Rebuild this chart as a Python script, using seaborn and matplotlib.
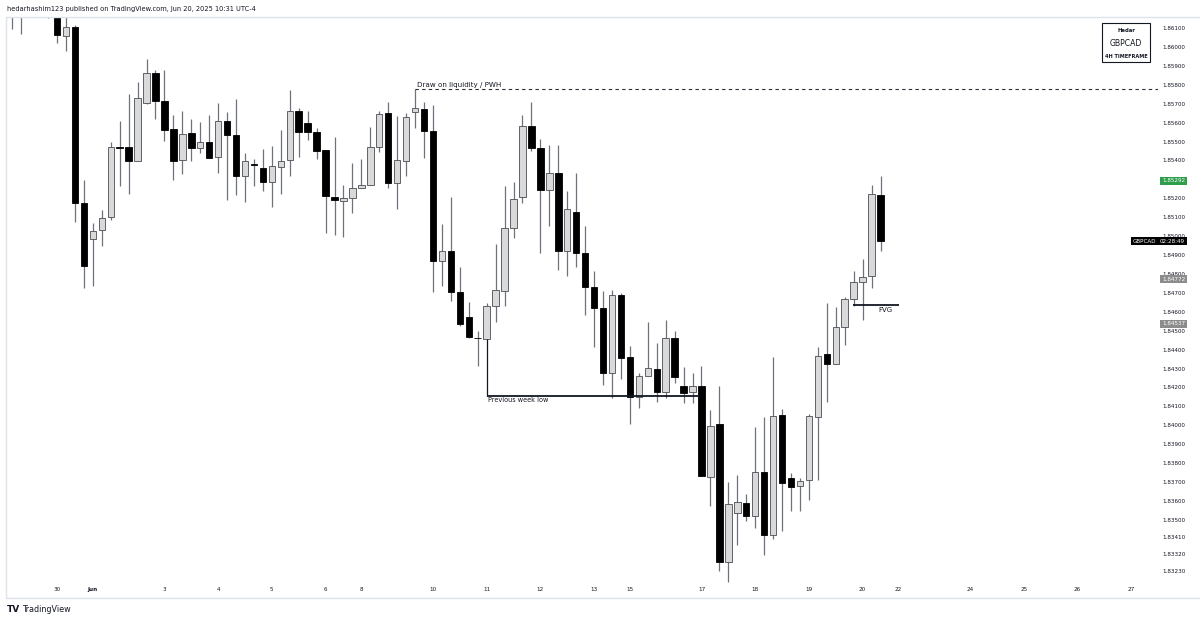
import numpy as np
import pandas as pd
import matplotlib
matplotlib.use("Agg")
import matplotlib.pyplot as plt
from matplotlib.patches import Rectangle
from matplotlib.lines import Line2D
import seaborn as sns

sns.set_theme(style="white")
plt.rcParams['font.family'] = ['DejaVu Sans']

# --- DATA: GBPCAD 4H candles (index 0 = 30 May) ---
first_idx = -5
opens = [1.86200, 1.86240, 1.86190, 1.86220, 1.86200, 1.86180, 1.86058, 1.86105, 1.85175, 1.84985,
         1.85032, 1.85101, 1.85471, 1.85471, 1.85397, 1.85704, 1.85862, 1.85714, 1.85566, 1.85402,
         1.85545, 1.85466, 1.85498, 1.85418, 1.85608, 1.85535, 1.85318, 1.85381, 1.85360, 1.85286,
         1.85365, 1.85402, 1.85661, 1.85598, 1.85550, 1.85455, 1.85207, 1.85186, 1.85202, 1.85254,
         1.85270, 1.85471, 1.85651, 1.85281, 1.85397, 1.85656, 1.85672, 1.85556, 1.84869, 1.84921,
         1.84705, 1.84573, 1.84462, 1.84456, 1.84631, 1.84710, 1.85043, 1.85207, 1.85582, 1.85466,
         1.85244, 1.85334, 1.84921, 1.85128, 1.84911, 1.84731, 1.84620, 1.84277, 1.84689, 1.84361,
         1.84150, 1.84261, 1.84298, 1.84176, 1.84462, 1.84208, 1.84176, 1.84208, 1.83728, 1.84007,
         1.83278, 1.83537, 1.83590, 1.83521, 1.83754, 1.83421, 1.84055, 1.83722, 1.83680, 1.83712,
         1.84044, 1.84377, 1.84324, 1.84520, 1.84668, 1.84758, 1.84789, 1.85217]
highs = [1.86280, 1.86270, 1.86260, 1.86250, 1.86230, 1.86200, 1.86170, 1.86116, 1.85297, 1.85069,
         1.85138, 1.85498, 1.85608, 1.85751, 1.85815, 1.85936, 1.85878, 1.85878, 1.85640, 1.85661,
         1.85619, 1.85603, 1.85640, 1.85704, 1.85656, 1.85725, 1.85439, 1.85408, 1.85461, 1.85476,
         1.85561, 1.85772, 1.85677, 1.85661, 1.85572, 1.85455, 1.85524, 1.85270, 1.85387, 1.85408,
         1.85577, 1.85661, 1.85709, 1.85635, 1.85651, 1.85778, 1.85709, 1.85693, 1.85064, 1.85207,
         1.84837, 1.84652, 1.84499, 1.84647, 1.84958, 1.85265, 1.85286, 1.85640, 1.85709, 1.85513,
         1.85482, 1.85482, 1.85239, 1.85334, 1.85054, 1.84816, 1.84710, 1.84715, 1.84700, 1.84419,
         1.84277, 1.84546, 1.84435, 1.84557, 1.84499, 1.84308, 1.84277, 1.84314, 1.84081, 1.84208,
         1.83701, 1.83738, 1.83638, 1.83991, 1.84044, 1.84361, 1.84086, 1.83749, 1.83722, 1.84060,
         1.84414, 1.84647, 1.84625, 1.84678, 1.84816, 1.84879, 1.85270, 1.85318]
lows = [1.86095, 1.86068, 1.86170, 1.86170, 1.86153, 1.86021, 1.85978, 1.85075, 1.84726, 1.84736,
        1.84948, 1.85085, 1.85265, 1.85223, 1.85397, 1.85698, 1.85619, 1.85503, 1.85297, 1.85328,
        1.85397, 1.85439, 1.85413, 1.85334, 1.85191, 1.85217, 1.85180, 1.85265, 1.85239, 1.85154,
        1.85223, 1.85318, 1.85418, 1.85508, 1.85408, 1.85017, 1.85006, 1.84995, 1.85122, 1.85254,
        1.85270, 1.85445, 1.85254, 1.85143, 1.85318, 1.85572, 1.85413, 1.84705, 1.84736, 1.84657,
        1.84525, 1.84462, 1.84314, 1.84456, 1.84546, 1.84631, 1.84990, 1.85175, 1.85450, 1.84911,
        1.85054, 1.84821, 1.84789, 1.84837, 1.84583, 1.84414, 1.84213, 1.84145, 1.84245, 1.84007,
        1.84092, 1.84261, 1.84123, 1.84145, 1.84224, 1.84118, 1.84118, 1.83733, 1.83574, 1.83230,
        1.83172, 1.83368, 1.83495, 1.83458, 1.83315, 1.83400, 1.83442, 1.83548, 1.83548, 1.83606,
        1.83712, 1.84123, 1.84324, 1.84425, 1.84631, 1.84557, 1.84726, 1.84921]
closes = [1.86240, 1.86190, 1.86220, 1.86200, 1.86180, 1.86063, 1.86105, 1.85175, 1.84842, 1.85027,
          1.85096, 1.85471, 1.85466, 1.85397, 1.85730, 1.85862, 1.85714, 1.85561, 1.85397, 1.85540,
          1.85466, 1.85498, 1.85413, 1.85608, 1.85535, 1.85318, 1.85397, 1.85376, 1.85286, 1.85371,
          1.85397, 1.85661, 1.85550, 1.85550, 1.85450, 1.85212, 1.85191, 1.85202, 1.85254, 1.85270,
          1.85471, 1.85645, 1.85281, 1.85402, 1.85630, 1.85677, 1.85556, 1.84869, 1.84921, 1.84705,
          1.84536, 1.84467, 1.84459, 1.84631, 1.84715, 1.85043, 1.85196, 1.85582, 1.85466, 1.85244,
          1.85334, 1.84921, 1.85143, 1.84911, 1.84731, 1.84620, 1.84277, 1.84689, 1.84356, 1.84150,
          1.84261, 1.84303, 1.84176, 1.84462, 1.84256, 1.84171, 1.84208, 1.83733, 1.83997, 1.83278,
          1.83585, 1.83595, 1.83521, 1.83754, 1.83421, 1.84049, 1.83696, 1.83675, 1.83706, 1.84049,
          1.84367, 1.84324, 1.84520, 1.84668, 1.84758, 1.84784, 1.85223, 1.84974]

price_ticks = [1.861, 1.860, 1.859, 1.858, 1.857, 1.856, 1.855, 1.854, 1.853, 1.852, 1.851, 1.850,
               1.849, 1.848, 1.847, 1.846, 1.845, 1.844, 1.843, 1.842, 1.841, 1.840, 1.839, 1.838,
               1.837, 1.836, 1.835, 1.8341, 1.8332, 1.8323]
date_pos = [0, 4, 12, 18, 24, 30, 34, 42, 48, 54, 60, 64, 72, 78, 84, 90, 94, 102, 108, 114, 120]
date_labels = ["30", "Jun", "3", "4", "5", "6", "8", "10", "11", "12", "13", "15", "17", "18",
               "19", "20", "22", "24", "25", "26", "27"]

pwh_level = 1.85778
pwh_candle = 40
prev_week_low = 1.84155
pwl_candle = 48
fvg_level = 1.84636
last_close = 1.84974
marker_green = 1.85292
marker_gray = [1.84772, 1.84537]

df = pd.DataFrame({"open": opens, "high": highs, "low": lows, "close": closes})
df["idx"] = np.arange(first_idx, first_idx + len(df))
df["bull"] = df["close"] >= df["open"]

W, H = 1200, 622
fig = plt.figure(figsize=(12, 6.22), dpi=100)
ax = fig.add_axes([6 / W, 1 - 583 / H, 1152 / W, 566 / H])
ax.set_facecolor("white")

# wicks
ax.vlines(df["idx"], df["low"], df["high"], color="#6f727b", lw=0.9, zorder=1)

# bodies
body = (df["close"] - df["open"]).abs().clip(lower=0.000012)
bottom = df[["open", "close"]].min(axis=1)
fill = np.where(df["bull"], "#d9d9d9", "#000000")
edge = np.where(df["bull"], "#4a4d56", "#000000")
ax.bar(df["idx"], body, bottom=bottom, width=0.72, color=fill, edgecolor=edge, lw=0.6, zorder=2)

ax.set_xlim(-5.7, 123.0)
ax.set_ylim(1.831667, 1.861581)

# annotations
pwl_top = df.loc[df["idx"] == pwl_candle, "open"].iloc[0]
ax.hlines(pwh_level, pwh_candle, 123.0, colors="#2a2e39", linestyles=(0, (3, 3)), lw=0.8, zorder=3)
ax.text(pwh_candle + 0.2, pwh_level + 0.00007, "Draw on liquidity / PWH", fontsize=5.1,
        color="#131722", va="bottom", ha="left")

ax.vlines(pwl_candle, prev_week_low, pwl_top, colors="#131722", lw=0.9, zorder=3)
ax.hlines(prev_week_low, pwl_candle, 71.7, colors="#131722", lw=1.3, zorder=3)
ax.text(pwl_candle + 0.2, prev_week_low - 0.00006, "Previous week low", fontsize=4.7,
        color="#131722", va="top", ha="left")

ax.hlines(fvg_level, 88.9, 94.1, colors="#131722", lw=1.3, zorder=3)
ax.text(91.8, fvg_level - 0.00008, "FVG", fontsize=5, color="#131722", va="top", ha="left")

# axes ticks
ax.yaxis.tick_right()
ax.set_yticks(price_ticks)
ax.set_yticklabels([f"{v:.5f}" for v in price_ticks])
ax.tick_params(axis="y", length=0, pad=3, labelsize=4.1, labelcolor="#131722")
ax.set_xticks(date_pos)
ax.set_xticklabels(date_labels)
ax.tick_params(axis="x", length=0, pad=3, labelsize=4.1, labelcolor="#131722")
ax.get_xticklabels()[1].set_fontweight("bold")
sns.despine(ax=ax, left=True, bottom=True, right=True, top=True)
ax.grid(False)

# price axis markers
ytr = ax.get_yaxis_transform()
ax.text(1 + 4 / 1152, marker_green, f"{marker_green:.5f}", transform=ytr, fontsize=4.1,
        color="white", va="center", ha="left", zorder=5, clip_on=False,
        bbox=dict(boxstyle="square,pad=0.3", fc="#2f9e4a", ec="none"))
for v in marker_gray:
    ax.text(1 + 4 / 1152, v, f"{v:.5f}", transform=ytr, fontsize=4.1, color="white",
            va="center", ha="left", zorder=5, clip_on=False,
            bbox=dict(boxstyle="square,pad=0.3", fc="#8c8c8c", ec="none"))
ax.text(1 - 2 / 1152, last_close, "GBPCAD", transform=ytr, fontsize=4.1, color="white",
        va="center", ha="right", zorder=5, clip_on=False,
        bbox=dict(boxstyle="square,pad=0.3", fc="#000000", ec="none"))
ax.text(1 + 2 / 1152, last_close, "02:28:49", transform=ytr, fontsize=4.1, color="white",
        va="center", ha="left", zorder=5, clip_on=False,
        bbox=dict(boxstyle="square,pad=0.3", fc="#000000", ec="none"))

# info box top right
fig.add_artist(Rectangle((1102 / W, 1 - 62 / H), 48 / W, 39 / H, transform=fig.transFigure,
                         fill=False, ec="#131722", lw=0.8))
fig.text(1126 / W, 1 - 31 / H, "Hedar", fontsize=3.8, fontweight="bold", ha="center", va="center", color="#131722")
fig.text(1126 / W, 1 - 43 / H, "GBPCAD", fontsize=5.6, ha="center", va="center", color="#131722")
fig.text(1126 / W, 1 - 56 / H, "4H TIMEFRAME", fontsize=3.6, fontweight="bold", ha="center", va="center", color="#131722")

# frame lines
fig.add_artist(Line2D([6 / W, 1], [1 - 17 / H] * 2, color="#e0e3eb", lw=1))
fig.add_artist(Line2D([6 / W, 1], [1 - 598 / H] * 2, color="#e0e3eb", lw=1))
fig.add_artist(Line2D([6 / W] * 2, [1 - 17 / H, 1 - 598 / H], color="#e0e3eb", lw=1))

# header / footer
fig.text(7 / W, 1 - 9 / H, "hedarhashim123 published on TradingView.com, Jun 20, 2025 10:31 UTC-4",
         fontsize=4.8, va="center", ha="left", color="#131722")
fig.text(7 / W, 1 - 610 / H, "TV", fontsize=6.5, fontweight="bold", va="center", ha="left", color="#131722")
fig.text(22 / W, 1 - 610 / H, "TradingView", fontsize=5.8, va="center", ha="left", color="#131722")

fig.savefig("out.png", dpi=100, facecolor="white")
